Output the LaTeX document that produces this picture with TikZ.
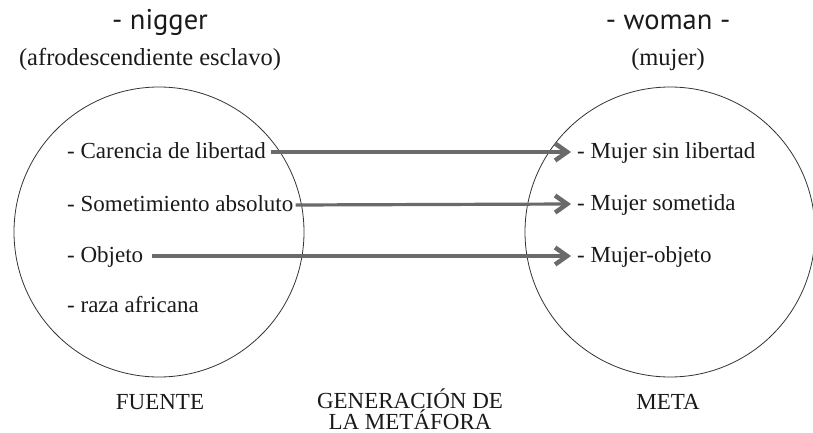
\documentclass[tikz,border=0pt]{standalone}
\usepackage{fontspec}
\setmainfont{Liberation Serif}
\newfontfamily\titlefont{PT Sans}
\usetikzlibrary{arrows.meta}
\definecolor{arrowgray}{HTML}{6A6A6A}
\definecolor{inkcol}{HTML}{1A1A1A}
\begin{document}
\begin{tikzpicture}[x=1pt,y=-1pt,
  item/.style={anchor=base west, inner sep=0pt, text=inkcol, font=\fontsize{23}{27}\selectfont},
  head/.style={anchor=base, inner sep=0pt, text=inkcol, font=\titlefont\fontsize{28.5}{32}\selectfont},
  sub/.style={anchor=base, inner sep=0pt, text=inkcol, font=\fontsize{24.5}{28}\selectfont},
  foot/.style={anchor=base, inner sep=0pt, text=inkcol, font=\fontsize{23}{27}\selectfont},
  dcircle/.style={circle, draw=black!80, line width=0.8pt, minimum size=290pt, inner sep=0pt},
  maparrow/.style={draw=arrowgray, line width=3.2pt, -{Straight Barb[length=12pt,width=17pt,line width=4.5pt]}},
]
\useasboundingbox (0,0) rectangle (813,433);
\clip (0,0) rectangle (813,433);
\node[dcircle] (src) at (159,232) {};
\node[dcircle] (tgt) at (670,232) {};
\node[head] (h1) at (160,30) {- nigger};
\node[sub] (s1) at (150,66) {(afrodescendiente esclavo)};
\node[head] (h2) at (668,30) {- woman -};
\node[sub] (s2) at (668,66) {(mujer)};
\node[item] (a1) at (67,158) {- Carencia de libertad};
\node[item] (a2) at (67,211) {- Sometimiento absoluto};
\node[item] (a3) at (67,262) {- Objeto};
\node[item] (a4) at (67,312) {- raza africana};
\node[item] (b1) at (577,158) {- Mujer sin libertad};
\node[item] (b2) at (577,210) {- Mujer sometida};
\node[item] (b3) at (577,262) {- Mujer-objeto};
\draw[maparrow] ([shift={(5,-6)}]a1.base east) -- ([shift={(-6,-6)}]b1.base west);
\draw[maparrow] ([shift={(2,-6)}]a2.base east) -- ([shift={(-6,-6)}]b2.base west);
\draw[maparrow] ([shift={(9,-6)}]a3.base east) -- ([shift={(-6,-6)}]b3.base west);
\node[foot] (f) at (160,409) {FUENTE};
\node[foot] (g1) at (410,408) {GENERACIÓN DE};
\node[foot] (g2) at (410,429) {LA METÁFORA};
\node[foot] (m) at (668,409) {META};
\end{tikzpicture}
\end{document}
